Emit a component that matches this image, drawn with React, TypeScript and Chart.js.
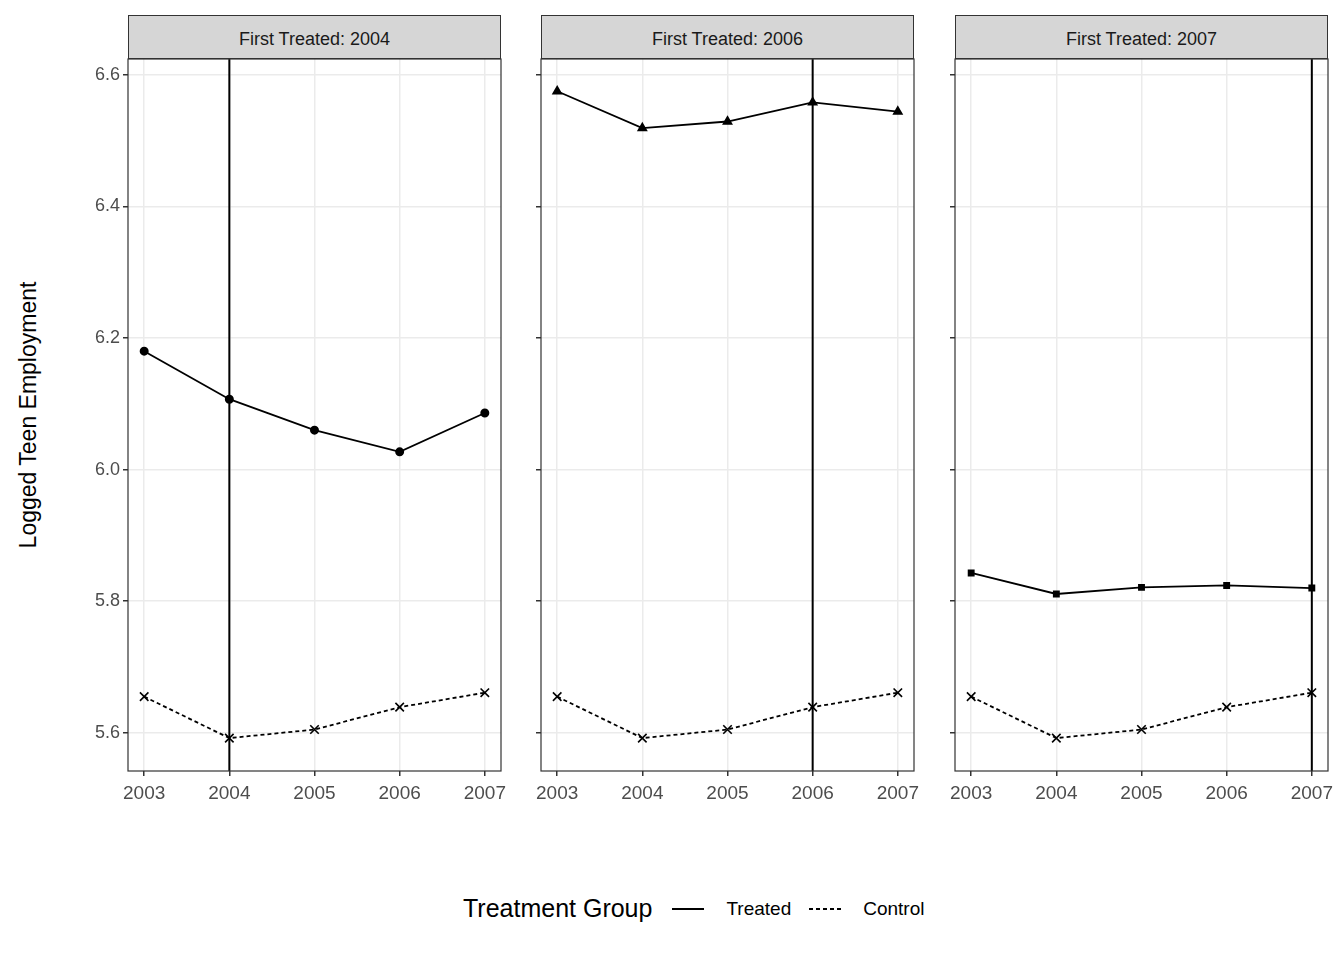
import { useEffect, useRef } from "react";
import { Chart } from "chart.js/auto";

const years = [2003, 2004, 2005, 2006, 2007];
const groups = ["2004", "2006", "2007"];
const treatedYear = [2004, 2006, 2007];
const treated2004 = [6.18, 6.107, 6.06, 6.027, 6.086];
const treated2006 = [6.575, 6.519, 6.529, 6.558, 6.544];
const treated2007 = [5.843, 5.811, 5.821, 5.824, 5.82];
const control = [5.655, 5.592, 5.605, 5.639, 5.661];
const treatedSeries = [treated2004, treated2006, treated2007];
const markers = ["circle", "triangle", "rect"];
const yTicks = [5.6, 5.8, 6.0, 6.2, 6.4, 6.6];

const FONT = "'Liberation Sans', Arial, sans-serif";
const panelLefts = [128, 541, 955];
const PANEL_W = 373;
const PANEL_TOP = 59;
const PANEL_H = 712;
const AXIS_W = 50;
const AXIS_H = 40;
const PAD_TOP = 25;
const PAD_RIGHT = 30;

const Panel = ({ idx }: { idx: number }) => {
  const canvasRef = useRef<HTMLCanvasElement | null>(null);
  const chartRef = useRef<Chart | null>(null);

  useEffect(() => {
    if (!canvasRef.current) return;
    if (chartRef.current) chartRef.current.destroy();
    const vline = treatedYear[idx];
    chartRef.current = new Chart(canvasRef.current, {
      type: "line",
      data: {
        datasets: [
          {
            data: years.map((x, i) => ({ x, y: treatedSeries[idx][i] })),
            borderColor: "#000",
            backgroundColor: "#000",
            borderWidth: 1.8,
            pointStyle: markers[idx] as any,
            pointRadius: idx === 1 ? 4.5 : 3.6,
          },
          {
            data: years.map((x, i) => ({ x, y: control[i] })),
            borderColor: "#000",
            backgroundColor: "#000",
            borderWidth: 1.8,
            borderDash: [4, 3],
            pointStyle: "crossRot",
            pointRadius: 6,
            pointBorderWidth: 1.6,
          },
        ],
      },
      options: {
        animation: false,
        responsive: false,
        layout: { padding: { right: PAD_RIGHT, top: PAD_TOP, left: 0, bottom: 0 } },
        plugins: { legend: { display: false }, tooltip: { enabled: false } },
        scales: {
          x: {
            type: "linear",
            min: 2002.81,
            max: 2007.19,
            afterBuildTicks: (s: any) => {
              s.ticks = years.map((v) => ({ value: v }));
            },
            afterFit: (s: any) => {
              s.height = AXIS_H;
            },
            ticks: {
              callback: (v: any) => String(v),
              color: "#4d4d4d",
              font: { family: FONT, size: 19 },
              padding: 6,
              maxRotation: 0,
            },
            grid: { color: "#ebebeb", lineWidth: 1.5, tickColor: "#333", tickLength: 5 },
            border: { display: false },
          },
          y: {
            min: 5.542,
            max: 6.624,
            afterBuildTicks: (s: any) => {
              s.ticks = yTicks.map((v) => ({ value: v }));
            },
            afterFit: (s: any) => {
              s.width = AXIS_W;
            },
            ticks: {
              display: idx === 0,
              callback: (v: any) => Number(v).toFixed(1),
              color: "#4d4d4d",
              font: { family: FONT, size: 18 },
              padding: 3,
            },
            grid: { color: "#ebebeb", lineWidth: 1.5, tickColor: "#333", tickLength: 5 },
            border: { display: false },
          },
        },
      },
      plugins: [
        {
          id: "frame",
          beforeDatasetsDraw: (c: any) => {
            const { ctx, chartArea: a, scales } = c;
            const x = scales.x.getPixelForValue(vline);
            ctx.save();
            ctx.strokeStyle = "#000";
            ctx.lineWidth = 2;
            ctx.beginPath();
            ctx.moveTo(x, a.top);
            ctx.lineTo(x, a.bottom);
            ctx.stroke();
            ctx.restore();
          },
          afterDraw: (c: any) => {
            const { ctx, chartArea: a } = c;
            ctx.save();
            ctx.strokeStyle = "#333";
            ctx.lineWidth = 1.2;
            ctx.strokeRect(a.left, a.top, a.right - a.left, a.bottom - a.top);
            ctx.restore();
          },
        },
      ],
    } as any);
    return () => {
      if (chartRef.current) {
        chartRef.current.destroy();
        chartRef.current = null;
      }
    };
  }, [idx]);

  const left = panelLefts[idx];
  return (
    <>
      <div
        style={{
          position: "absolute",
          left,
          top: 15,
          width: PANEL_W,
          height: PANEL_TOP - 15,
          boxSizing: "border-box",
          background: "#d6d6d6",
          border: "1.2px solid #333",
          display: "flex",
          alignItems: "center",
          justifyContent: "center",
          paddingTop: 4,
          fontSize: 18,
          color: "#1a1a1a",
        }}
      >
        First Treated: {groups[idx]}
      </div>
      <canvas
        ref={canvasRef}
        width={PANEL_W + AXIS_W + PAD_RIGHT}
        height={PANEL_H + AXIS_H + PAD_TOP}
        style={{ position: "absolute", left: left - AXIS_W, top: PANEL_TOP - PAD_TOP }}
      />
    </>
  );
};

const App = () => {
  useEffect(() => {
    document.body.style.margin = "0";
  }, []);
  return (
    <div style={{ position: "relative", width: 1344, height: 960, fontFamily: FONT, background: "#fff" }}>
      <div
        style={{
          position: "absolute",
          left: 28,
          top: 415,
          transform: "translate(-50%, -50%) rotate(-90deg)",
          fontSize: 23,
          whiteSpace: "nowrap",
        }}
      >
        Logged Teen Employment
      </div>
      {[0, 1, 2].map((i) => (
        <Panel key={i} idx={i} />
      ))}
      <div style={{ position: "absolute", left: 463, top: 894, display: "flex", alignItems: "center", whiteSpace: "nowrap" }}>
        <span style={{ fontSize: 25 }}>Treatment Group</span>
        <svg width="36" height="10" style={{ marginLeft: 18 }}>
          <line x1="2" y1="5" x2="34" y2="5" stroke="#000" strokeWidth="2" />
        </svg>
        <span style={{ fontSize: 19, marginLeft: 20 }}>Treated</span>
        <svg width="36" height="10" style={{ marginLeft: 16 }}>
          <line x1="2" y1="5" x2="34" y2="5" stroke="#000" strokeWidth="2" strokeDasharray="4 3" />
        </svg>
        <span style={{ fontSize: 19, marginLeft: 20 }}>Control</span>
      </div>
    </div>
  );
};

export default App;
